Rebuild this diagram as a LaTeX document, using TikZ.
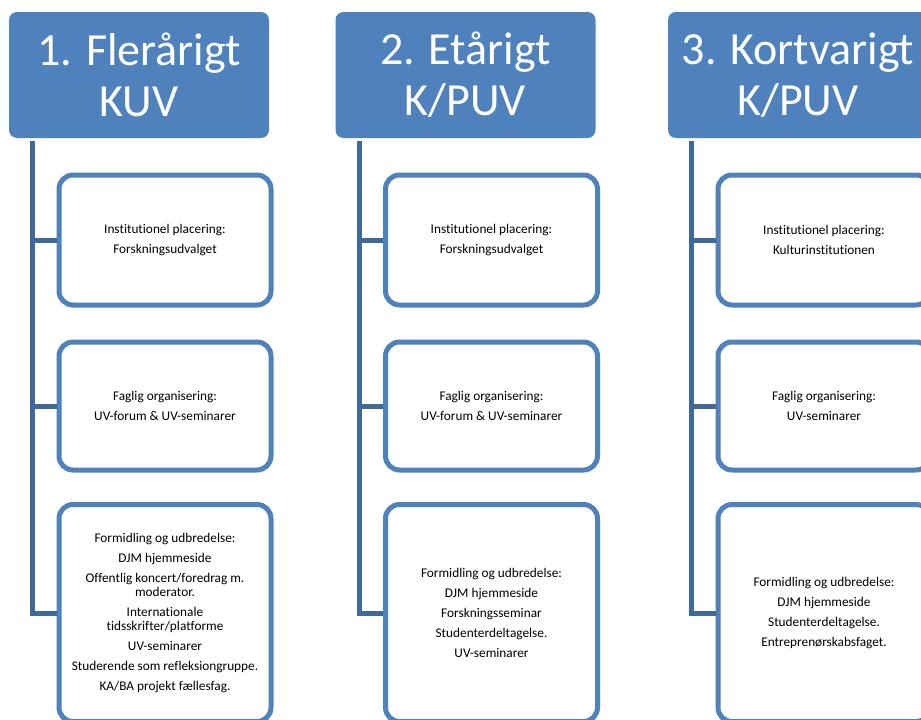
\documentclass[tikz,border=0pt]{standalone}
\usepackage{fontspec}
\setmainfont[Ligatures=NoCommon]{Carlito}
\usetikzlibrary{positioning}
\definecolor{headblue}{HTML}{4F81BD}
\definecolor{trunkblue}{HTML}{3F689B}
\tikzset{
	head/.style={fill=headblue, rounded corners=8pt, minimum width=260pt, minimum height=126pt,
		inner sep=0pt, text=white, align=center, font=\fontsize{46}{51}\selectfont},
	item/.style={draw=headblue, line width=5pt, fill=white, rounded corners=14pt,
		minimum width=212pt, inner sep=0pt, align=center, font=\fontsize{13.3}{20}\selectfont},
	trunk/.style={draw=trunkblue, line width=5pt},
}
\begin{document}
\begin{tikzpicture}[x=1pt,y=-1pt]
			\useasboundingbox (0,0) rectangle (921,720);
			\clip (0,0) rectangle (921,720);

			% headers
			\node[head] (h1) at (139  ,75) {1. Flerårigt\\KUV};
			\node[head] (h2) at (465.5,75) {2. Etårigt\\K/PUV};
			\node[head] (h3) at (798  ,75) {3. Kortvarigt\\K/PUV};

			% column 1
			\node[item, minimum height=130pt] (b11) at (165,240) {Institutionel placering:\\Forskningsudvalget};
			\node[item, minimum height=128pt] (b12) at (165,406) {Faglig organisering:\\UV-forum \& UV-seminarer};
			\node[item, minimum height=217pt] (b13) at (165,613) {Formidling og udbredelse:\\DJM hjemmeside\\Offentlig koncert/foredrag m.\\[-6pt]moderator.\\Internationale\\[-6pt]tidsskrifter/platforme\\UV-seminarer\\Studerende som refleksiongruppe.\\KA/BA projekt fællesfag.};

			% column 2
			\node[item, minimum height=130pt] (b21) at (491.5,240) {Institutionel placering:\\Forskningsudvalget};
			\node[item, minimum height=128pt] (b22) at (491.5,406) {Faglig organisering:\\UV-forum \& UV-seminarer};
			\node[item, minimum height=217pt] (b23) at (491.5,613) {Formidling og udbredelse:\\DJM hjemmeside\\Forskningsseminar\\Studenterdeltagelse.\\UV-seminarer};

			% column 3
			\node[item, minimum height=130pt] (b31) at (824,240) {Institutionel placering:\\Kulturinstitutionen};
			\node[item, minimum height=128pt] (b32) at (824,406) {Faglig organisering:\\UV-seminarer};
			\node[item, minimum height=217pt] (b33) at (824,613) {Formidling og udbredelse:\\DJM hjemmeside\\Studenterdeltagelse.\\Entreprenørskabsfaget.};

			% trunks and branches
			\draw[trunk] ([xshift=24pt,yshift=-3pt]h1.south west) coordinate (t1) |- (b13.west);
			\draw[trunk] ([xshift=24pt,yshift=-3pt]h2.south west) coordinate (t2) |- (b23.west);
			\draw[trunk] ([xshift=24pt,yshift=-3pt]h3.south west) coordinate (t3) |- (b33.west);
			\draw[trunk] (t1 |- b11.west) -- (b11.west);
			\draw[trunk] (t1 |- b12.west) -- (b12.west);
			\draw[trunk] (t2 |- b21.west) -- (b21.west);
			\draw[trunk] (t2 |- b22.west) -- (b22.west);
			\draw[trunk] (t3 |- b31.west) -- (b31.west);
			\draw[trunk] (t3 |- b32.west) -- (b32.west);
		\end{tikzpicture}
\end{document}
